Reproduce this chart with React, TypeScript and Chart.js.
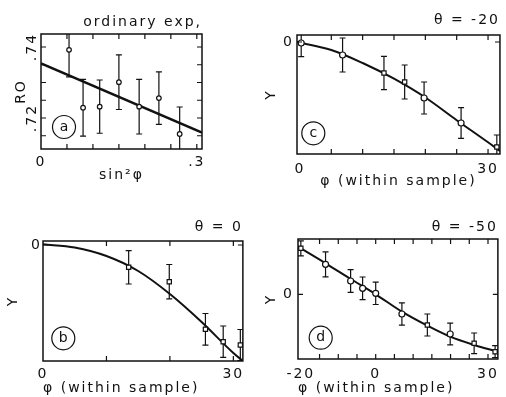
import React, { useEffect, useRef } from "react";
import { Chart, registerables } from "chart.js";

Chart.register(...registerables);
Chart.defaults.font.family = "'DejaVu Sans', sans-serif";
Chart.defaults.font.size = 14;
Chart.defaults.color = "#111";

// (a) ordinary experiment: RO against sin²φ, with a straight-line fit
const A_SIN2PHI = [0.054, 0.081, 0.113, 0.15, 0.189, 0.227, 0.267];
const A_RO = [0.7392, 0.7229, 0.7232, 0.7301, 0.7232, 0.7256, 0.7155];
const A_RO_ERR = [0.0076, 0.008, 0.0075, 0.0077, 0.0077, 0.0074, 0.0076];
const A_FIT_SIN2PHI = [0, 0.31];
const A_FIT_RO = [0.7354, 0.7159];
const A_X_TICKS = [0, 0.3];
const A_X_TICK_LABELS = ["0", ".3"];
const A_Y_TICKS = [0.72, 0.74];
const A_Y_TICK_LABELS = [".72", ".74"];
const A_X_MARKS = [0.05, 0.1, 0.15, 0.2, 0.25, 0.3];
const A_Y_MARKS = [0.715, 0.72, 0.725, 0.73, 0.735, 0.74];

// (b) θ = 0: Y against φ within the sample
const B_PHI = [13.5, 19.9, 25.6, 28.4, 31.1];
const B_Y = [-0.223, -0.367, -0.843, -0.967, -1.0];
const B_Y_ERR = [0.167, 0.172, 0.158, 0.157, 0.155];
const B_CURVE_PHI = [0, 5, 10, 15, 20, 25, 30, 31.5];
const B_CURVE_Y = [0.007, -0.025, -0.11, -0.26, -0.49, -0.77, -1.08, -1.16];
const B_X_TICKS = [0, 30];
const B_X_TICK_LABELS = ["0", "30"];
const B_X_MARKS = [10, 20, 30];

// (c) θ = -20
const C_PHI = [0.2, 6.8, 13.4, 16.7, 19.8, 25.7, 31.4];
const C_Y = [-0.01, -0.13, -0.31, -0.4, -0.56, -0.81, -1.05];
const C_Y_ERR = [0.137, 0.17, 0.167, 0.17, 0.16, 0.153, 0.12];
const C_CURVE_PHI = [-0.47, 5, 10, 15, 20, 25, 30, 31.9];
const C_CURVE_Y = [0.0, -0.08, -0.21, -0.367, -0.555, -0.782, -1.003, -1.09];
const C_X_TICKS = [0, 30];
const C_X_TICK_LABELS = ["0", "30"];
const C_X_MARKS = [5, 10, 15, 20, 25, 30];

// (d) θ = -50
const D_PHI = [-20.0, -13.4, -6.7, -3.5, 0, 7.0, 13.8, 19.9, 26.3, 31.9];
const D_Y = [0.46, 0.3, 0.133, 0.06, 0.01, -0.197, -0.307, -0.397, -0.49, -0.574];
const D_Y_ERR = [0.075, 0.125, 0.113, 0.113, 0.112, 0.112, 0.11, 0.108, 0.103, 0.06];
const D_CURVE_PHI = [-20.76, -13.4, -6.7, 0, 7, 13.8, 19.9, 26.3, 32.64];
const D_CURVE_Y = [0.476, 0.31, 0.153, 0.0, -0.174, -0.314, -0.424, -0.507, -0.574];
const D_X_TICKS = [-20, 0, 30];
const D_X_TICK_LABELS = ["-20", "0", "30"];
const D_X_MARKS = [-15, -10, -5, 0, 5, 10, 15, 20, 25, 30];

const Y_ZERO_TICKS = [0];
const Y_ZERO_LABELS = ["0"];
const Y_ZERO_MARKS = [0];

type Box = { left: number; top: number; w: number; h: number };

type PanelSpec = {
  letter: string;
  title: string;
  xTitle: string;
  yTitle: string;
  xs: number[];
  ys: number[];
  errs: number[];
  curveX: number[];
  curveY: number[];
  smooth: boolean;
  curveWidth: number;
  xMin: number;
  xMax: number;
  yMin: number;
  yMax: number;
  xTicks: number[];
  xTickLabels: string[];
  yTicks: number[];
  yTickLabels: string[];
  xMarks: number[];
  yMarks: number[];
  styles: string[] | string;
  markerR: number;
  box: Box;
  pad: { left: number; right: number; top: number; bottom: number };
  yWidth: number;
  xHeight: number;
  titlePad: { top: number; bottom: number };
  xTickPad: number;
  xTitlePad: number;
  xTitleAlign: "start" | "center" | "end";
  yTitlePad: number;
  yTickPad: number;
  yRotate: boolean;
  badge: { dx: number; dy: number };
};

const INK = "#111";

const panelDecor = {
  id: "panelDecor",
  beforeUpdate(chart: any) {
    chart.ctx.letterSpacing = "2px";
  },
  beforeDraw(chart: any) {
    chart.ctx.letterSpacing = "2px";
  },
  // error bars, under the markers
  beforeDatasetsDraw(chart: any, _args: any, opts: any) {
    const { ctx, chartArea: ca } = chart;
    const ys = chart.scales.y;
    const cap = opts.cap ?? 3;
    ctx.save();
    ctx.beginPath();
    ctx.rect(ca.left, ca.top, ca.right - ca.left, ca.bottom - ca.top);
    ctx.clip();
    ctx.strokeStyle = INK;
    ctx.lineWidth = 1.2;
    chart.data.datasets.forEach((ds: any, di: number) => {
      const errs: number[] | undefined = ds.errors;
      if (!errs) return;
      const meta = chart.getDatasetMeta(di);
      meta.data.forEach((pt: any, i: number) => {
        const v = ds.data[i].y;
        const yt = ys.getPixelForValue(v + errs[i]);
        const yb = ys.getPixelForValue(v - errs[i]);
        const x = pt.x;
        ctx.beginPath();
        ctx.moveTo(x, yt);
        ctx.lineTo(x, yb);
        ctx.moveTo(x - cap, yt);
        ctx.lineTo(x + cap, yt);
        ctx.moveTo(x - cap, yb);
        ctx.lineTo(x + cap, yb);
        ctx.stroke();
      });
    });
    ctx.restore();
  },
  // frame, inward tick marks on all four sides, and the panel letter
  afterDatasetsDraw(chart: any, _args: any, opts: any) {
    const { ctx, chartArea: ca } = chart;
    const xs = chart.scales.x;
    const ys = chart.scales.y;
    const L = 5;
    ctx.save();
    ctx.strokeStyle = INK;
    ctx.lineWidth = 1.5;
    ctx.strokeRect(ca.left, ca.top, ca.right - ca.left, ca.bottom - ca.top);
    ctx.lineWidth = 1.2;
    ctx.beginPath();
    (opts.xMarks || []).forEach((v: number) => {
      const px = xs.getPixelForValue(v);
      ctx.moveTo(px, ca.bottom);
      ctx.lineTo(px, ca.bottom - L);
      ctx.moveTo(px, ca.top);
      ctx.lineTo(px, ca.top + L);
    });
    (opts.yMarks || []).forEach((v: number) => {
      const py = ys.getPixelForValue(v);
      ctx.moveTo(ca.left, py);
      ctx.lineTo(ca.left + L, py);
      ctx.moveTo(ca.right, py);
      ctx.lineTo(ca.right - L, py);
    });
    ctx.stroke();

    const cx = ca.left + opts.dx;
    const cy = ca.bottom + opts.dy;
    ctx.beginPath();
    ctx.arc(cx, cy, 11.5, 0, Math.PI * 2);
    ctx.lineWidth = 1.2;
    ctx.stroke();
    ctx.letterSpacing = "0px";
    ctx.fillStyle = INK;
    ctx.font = "14px 'DejaVu Sans', sans-serif";
    ctx.textAlign = "center";
    ctx.textBaseline = "middle";
    ctx.fillText(opts.letter, cx, cy);
    ctx.restore();
  },
};

function buildConfig(p: PanelSpec): any {
  const points = p.xs.map((x, i) => ({ x, y: p.ys[i] }));
  const curve = p.curveX.map((x, i) => ({ x, y: p.curveY[i] }));
  return {
    type: "scatter",
    data: {
      datasets: [
        {
          type: "line",
          data: curve,
          borderColor: INK,
          borderWidth: p.curveWidth,
          pointRadius: 0,
          fill: false,
          cubicInterpolationMode: p.smooth ? "monotone" : "default",
          tension: 0,
          order: 2,
        },
        {
          type: "scatter",
          data: points,
          errors: p.errs,
          pointStyle: p.styles,
          pointRadius: p.markerR,
          backgroundColor: "#fff",
          borderColor: INK,
          borderWidth: 1.2,
          clip: 8,
          order: 1,
        },
      ],
    },
    options: {
      responsive: false,
      animation: false,
      events: [],
      layout: { padding: p.pad },
      plugins: {
        legend: { display: false },
        tooltip: { enabled: false },
        title: {
          display: true,
          text: p.title,
          align: "end",
          fullSize: false,
          color: INK,
          font: { size: 14, weight: "normal" },
          padding: p.titlePad,
        },
        panelDecor: {
          letter: p.letter,
          dx: p.badge.dx,
          dy: p.badge.dy,
          xMarks: p.xMarks,
          yMarks: p.yMarks,
          cap: 3,
        },
      },
      scales: {
        x: {
          type: "linear",
          position: "bottom",
          min: p.xMin,
          max: p.xMax,
          grid: { display: false, drawTicks: false },
          border: { display: false },
          afterBuildTicks: (s: any) => {
            s.ticks = p.xTicks.map((value) => ({ value }));
          },
          afterFit: (s: any) => {
            s.height = p.xHeight;
          },
          ticks: {
            autoSkip: false,
            maxRotation: 0,
            minRotation: 0,
            padding: p.xTickPad,
            color: INK,
            callback: (_v: any, i: number) => p.xTickLabels[i],
          },
          title: {
            display: true,
            text: p.xTitle,
            align: p.xTitleAlign,
            color: INK,
            font: { size: 14 },
            padding: { top: 0, bottom: p.xTitlePad },
          },
        },
        y: {
          type: "linear",
          position: "left",
          min: p.yMin,
          max: p.yMax,
          grid: { display: false, drawTicks: false },
          border: { display: false },
          afterBuildTicks: (s: any) => {
            s.ticks = p.yTicks.map((value) => ({ value }));
          },
          afterFit: (s: any) => {
            s.width = p.yWidth;
          },
          ticks: {
            autoSkip: false,
            minRotation: p.yRotate ? 90 : 0,
            maxRotation: p.yRotate ? 90 : 0,
            crossAlign: p.yRotate ? "center" : "near",
            padding: p.yTickPad,
            color: INK,
            callback: (_v: any, i: number) => p.yTickLabels[i],
          },
          title: {
            display: true,
            text: p.yTitle,
            color: INK,
            font: { size: 14 },
            padding: { top: p.yTitlePad, bottom: 0 },
          },
        },
      },
    },
    plugins: [panelDecor],
  };
}

const PANEL_A: PanelSpec = {
  letter: "a",
  title: "ordinary exp,",
  xTitle: "sin²φ",
  yTitle: "RO",
  xs: A_SIN2PHI,
  ys: A_RO,
  errs: A_RO_ERR,
  curveX: A_FIT_SIN2PHI,
  curveY: A_FIT_RO,
  smooth: false,
  curveWidth: 2.6,
  xMin: 0,
  xMax: 0.31,
  yMin: 0.71127,
  yMax: 0.74366,
  xTicks: A_X_TICKS,
  xTickLabels: A_X_TICK_LABELS,
  yTicks: A_Y_TICKS,
  yTickLabels: A_Y_TICK_LABELS,
  xMarks: A_X_MARKS,
  yMarks: A_Y_MARKS,
  styles: "circle",
  markerR: 2.3,
  box: { left: 0, top: 0, w: 250, h: 195 },
  pad: { left: 0, right: 48, top: 10, bottom: 0 },
  yWidth: 41,
  xHeight: 46,
  titlePad: { top: 4.4, bottom: 2.8 },
  xTickPad: 4.6,
  xTitlePad: 10.8,
  xTitleAlign: "center",
  yTitlePad: 12.5,
  yTickPad: -5,
  yRotate: true,
  badge: { dx: 23, dy: -22 },
};

const PANEL_C: PanelSpec = {
  letter: "c",
  title: "θ = -20",
  xTitle: "φ (within sample)",
  yTitle: "Y",
  xs: C_PHI,
  ys: C_Y,
  errs: C_Y_ERR,
  curveX: C_CURVE_PHI,
  curveY: C_CURVE_Y,
  smooth: true,
  curveWidth: 2,
  xMin: -0.47,
  xMax: 31.9,
  yMin: -1.12,
  yMax: 0.07,
  xTicks: C_X_TICKS,
  xTickLabels: C_X_TICK_LABELS,
  yTicks: Y_ZERO_TICKS,
  yTickLabels: Y_ZERO_LABELS,
  xMarks: C_X_MARKS,
  yMarks: Y_ZERO_MARKS,
  styles: ["circle", "circle", "rect", "rect", "circle", "circle", "rect"],
  markerR: 3,
  box: { left: 250, top: 0, w: 256, h: 195 },
  pad: { left: 0, right: 4, top: 10, bottom: 0 },
  yWidth: 47,
  xHeight: 41,
  titlePad: { top: 2.4, bottom: 5.8 },
  xTickPad: 6.7,
  xTitlePad: 4.8,
  xTitleAlign: "center",
  yTitlePad: 13,
  yTickPad: 3,
  yRotate: false,
  badge: { dx: 16.3, dy: -20.7 },
};

const PANEL_B: PanelSpec = {
  letter: "b",
  title: "θ = 0",
  xTitle: "φ (within sample)",
  yTitle: "Y",
  xs: B_PHI,
  ys: B_Y,
  errs: B_Y_ERR,
  curveX: B_CURVE_PHI,
  curveY: B_CURVE_Y,
  smooth: true,
  curveWidth: 2,
  xMin: 0,
  xMax: 31.5,
  yMin: -1.16,
  yMax: 0.04,
  xTicks: B_X_TICKS,
  xTickLabels: B_X_TICK_LABELS,
  yTicks: Y_ZERO_TICKS,
  yTickLabels: Y_ZERO_LABELS,
  xMarks: B_X_MARKS,
  yMarks: Y_ZERO_MARKS,
  styles: "rect",
  markerR: 3,
  box: { left: 0, top: 195, w: 250, h: 202 },
  pad: { left: 0, right: 3, top: 20, bottom: 0 },
  yWidth: 43,
  xHeight: 36,
  titlePad: { top: 4.1, bottom: 5.1 },
  xTickPad: 5.4,
  xTitlePad: 0.1,
  xTitleAlign: "start",
  yTitlePad: 5,
  yTickPad: 1,
  yRotate: false,
  badge: { dx: 20.3, dy: -22.7 },
};

const PANEL_D: PanelSpec = {
  letter: "d",
  title: "θ = -50",
  xTitle: "φ (within sample)",
  yTitle: "Y",
  xs: D_PHI,
  ys: D_Y,
  errs: D_Y_ERR,
  curveX: D_CURVE_PHI,
  curveY: D_CURVE_Y,
  smooth: true,
  curveWidth: 2,
  xMin: -20.76,
  xMax: 32.64,
  yMin: -0.647,
  yMax: 0.553,
  xTicks: D_X_TICKS,
  xTickLabels: D_X_TICK_LABELS,
  yTicks: Y_ZERO_TICKS,
  yTickLabels: Y_ZERO_LABELS,
  xMarks: D_X_MARKS,
  yMarks: Y_ZERO_MARKS,
  styles: ["rect", "circle", "circle", "circle", "circle", "circle", "rect", "circle", "rect", "rect"],
  markerR: 3,
  box: { left: 250, top: 195, w: 256, h: 202 },
  pad: { left: 0, right: 4, top: 20, bottom: 0 },
  yWidth: 48,
  xHeight: 38,
  titlePad: { top: 4.1, bottom: 3.1 },
  xTickPad: 6.7,
  xTitlePad: 0.3,
  xTitleAlign: "start",
  yTitlePad: 12.8,
  yTickPad: 4,
  yRotate: false,
  badge: { dx: 22.7, dy: -21.3 },
};

function Panel({ spec }: { spec: PanelSpec }) {
  const ref = useRef<HTMLCanvasElement>(null);
  useEffect(() => {
    if (!ref.current) return;
    const chart = new Chart(ref.current, buildConfig(spec));
    return () => chart.destroy();
  }, [spec]);
  const { left, top, w, h } = spec.box;
  return (
    <canvas
      ref={ref}
      width={w}
      height={h}
      style={{ position: "absolute", left, top, width: w, height: h }}
    />
  );
}

export default function App() {
  return (
    <div
      style={{
        position: "absolute",
        left: 0,
        top: 0,
        width: 506,
        height: 397,
        background: "#fff",
        overflow: "hidden",
      }}
    >
      <Panel spec={PANEL_A} />
      <Panel spec={PANEL_C} />
      <Panel spec={PANEL_B} />
      <Panel spec={PANEL_D} />
    </div>
  );
}
